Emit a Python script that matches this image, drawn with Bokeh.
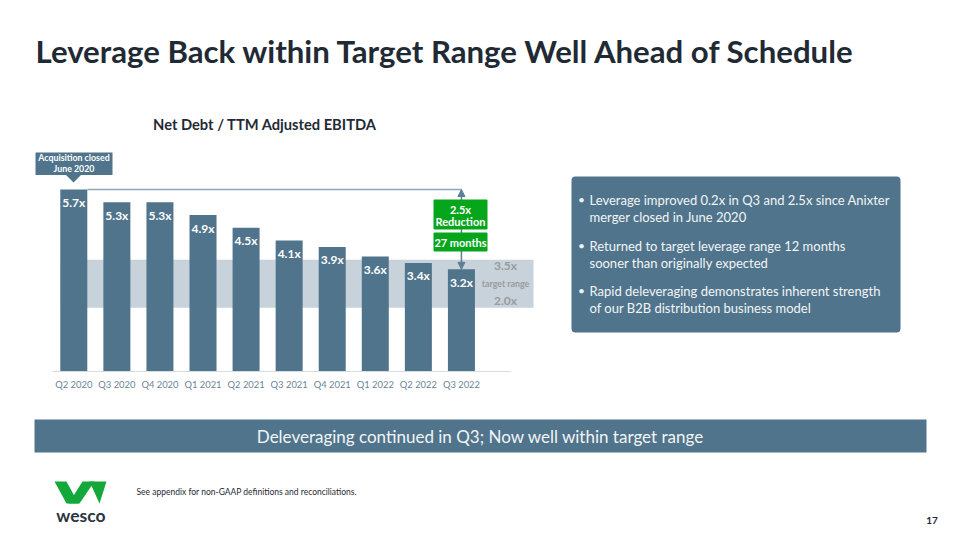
from bokeh.plotting import figure
from bokeh.models import (ColumnDataSource, Range1d, BoxAnnotation, Label, Arrow,
                          NormalHead)
from bokeh.core.properties import value
from bokeh.embed import file_html
from bokeh.resources import INLINE

# ---------------- data ----------------
quarters = ["Q2 2020", "Q3 2020", "Q4 2020", "Q1 2021", "Q2 2021",
            "Q3 2021", "Q4 2021", "Q1 2022", "Q2 2022", "Q3 2022"]
leverage = [5.7, 5.3, 5.3, 4.9, 4.5, 4.1, 3.9, 3.6, 3.4, 3.2]
target_low = 2.0
target_high = 3.5
reduction_label = ["2.5x", "Reduction"]
months_label = "27 months"
bullets = [
    ["Leverage improved 0.2x in Q3 and 2.5x since Anixter", "merger closed in June 2020"],
    ["Returned to target leverage range 12 months", "sooner than originally expected"],
    ["Rapid deleveraging demonstrates inherent strength", "of our B2B distribution business model"],
]

# ---------------- styling ----------------
FONT = "Lato"
BAR = "#50748b"
BAND = "#c7d2db"
DARK = "#1f2a35"
GREEN = "#06a61c"
TICK = "#6a8498"
LINE = "#8ea7b9"

# slide-pixel -> data helpers (category pitch 43.07px, 31.93px per 1.0x)
CX0, SX = 73.3, 43.07
BASE, SY = 371.0, 31.93


def X(px):
    return (px - CX0) / SX


def Y(py):
    return (BASE - py) / SY


p = figure(width=952, height=532, x_range=Range1d(X(0), X(952)),
           y_range=Range1d(Y(532), Y(0)), output_backend="svg",
           toolbar_location=None, min_border=0,
           x_axis_location=None, y_axis_location=None)
p.grid.visible = False
p.outline_line_color = None
p.background_fill_color = "white"
p.border_fill_color = "white"


def label(px, py, text, size, color=DARK, bold=False, align="left", font=FONT):
    p.add_layout(Label(x=X(px), y=Y(py), text=text, text_font=font,
                       text_font_size=f"{size}px", text_color=color,
                       text_font_style="bold" if bold else "normal",
                       text_align=align, text_baseline="middle"))


# title
label(35, 50, "Leverage Back within Target Range Well Ahead of Schedule", 31.2, DARK, True)
label(264.5, 123, "Net Debt / TTM Adjusted EBITDA", 14.7, DARK, True, "center")

# target band
p.add_layout(BoxAnnotation(left=X(60), right=X(533), bottom=target_low, top=target_high,
                           fill_color=BAND, fill_alpha=1, line_color=None, level="underlay"))

# bars
idx = list(range(len(quarters)))
bw = 27.0 / SX
src = ColumnDataSource(dict(x=idx, top=leverage, q=quarters,
                            lab=[f"{v:.1f}x" for v in leverage]))
p.vbar(x="x", top="top", width=bw, bottom=0, source=src, fill_color=BAR, line_color=None)
p.text(x="x", y="top", text="lab", source=src, text_font=value(FONT),
       text_font_size="12px", text_font_style="bold", text_color="white",
       text_align="center", text_baseline="middle", y_offset=13)

# baseline
p.segment(x0=[X(52)], x1=[X(510)], y0=[0], y1=[0], line_color="#d5dde3", line_width=1)
# category labels
p.text(x="x", y=0, text="q", source=src, text_font=value(FONT), text_font_size="9.4px",
       text_color=TICK, text_align="center", text_baseline="middle", y_offset=13)

# bracket line + arrow
last = len(leverage) - 1
p.segment(x0=[0 + bw / 2], x1=[last], y0=[leverage[0]], y1=[leverage[0]],
          line_color=LINE, line_width=1.5)
p.add_layout(Arrow(x_start=last, y_start=leverage[-1], x_end=last, y_end=leverage[0],
                   line_color="#5f7f96", line_width=1.5,
                   start=NormalHead(size=7, fill_color="#5f7f96", line_color="#5f7f96"),
                   end=NormalHead(size=7, fill_color="#5f7f96", line_color="#5f7f96")))

# green boxes
p.add_layout(BoxAnnotation(left=X(433), right=X(487), top=Y(199), bottom=Y(229),
                           fill_color=GREEN, fill_alpha=1, line_color=None, border_radius=1))
p.add_layout(BoxAnnotation(left=X(433), right=X(487), top=Y(232), bottom=Y(251),
                           fill_color=GREEN, fill_alpha=1, line_color=None, border_radius=1))
label(460, 208.5, reduction_label[0], 11, "white", True, "center")
label(460, 221, reduction_label[1], 11, "white", True, "center")
label(460, 241.5, months_label, 11, "white", True, "center")

# target range labels
label(505, 265, f"{target_high:.1f}x", 12, "#9b9b9b", True, "center")
label(505, 282.5, "target range", 8.8, "#9b9b9b", True, "center")
label(505, 300, f"{target_low:.1f}x", 12, "#9b9b9b", True, "center")

# acquisition callout
p.add_layout(BoxAnnotation(left=X(35), right=X(112), top=Y(152), bottom=Y(174.5),
                           fill_color=BAR, fill_alpha=1, line_color=None))
p.patch(x=[X(65), X(81), X(73)], y=[Y(174), Y(174), Y(182)], fill_color=BAR, line_color=None)
label(73.5, 157, "Acquisition closed", 8.8, "white", True, "center")
label(73.5, 167.5, "June 2020", 8.8, "white", True, "center")

# bullet box
p.add_layout(BoxAnnotation(left=X(571), right=X(900), top=Y(176), bottom=Y(332),
                           fill_color=BAR, fill_alpha=1, line_color=None, border_radius=4))
line_y = [[199, 216.5], [245, 262], [290, 307]]
for b, ys in zip(bullets, line_y):
    label(581, ys[0], "\u2022", 12, "#eef1f4", False, "center")
    for t, yy in zip(b, ys):
        label(589, yy, t, 13.0, "#f2f4f6")

# banner
p.add_layout(BoxAnnotation(left=X(34), right=X(926), top=Y(419), bottom=Y(452),
                           fill_color=BAR, fill_alpha=1, line_color=None))
label(480, 436, "Deleveraging continued in Q3; Now well within target range", 17,
      "#f2f4f6", False, "center")

# footer
logo_xs = [[54, 66, 78, 66], [68, 82, 94, 79], [89, 106, 99]]
logo_ys = [[481, 481, 503, 503], [503, 481, 481, 503], [481, 481, 503]]
p.patches(xs=[[X(v) for v in s] for s in logo_xs], ys=[[Y(v) for v in s] for s in logo_ys],
          fill_color="#14a83b", line_color=None)
label(80.5, 515, "wesco", 17.5, "#2b3440", True, "center")
label(136, 491.5, "See appendix for non-GAAP definitions and reconciliations.", 8.5, DARK)
label(931.5, 520, "17", 10, DARK, True, "center")

open("out.html", "w").write(file_html(p, INLINE))
